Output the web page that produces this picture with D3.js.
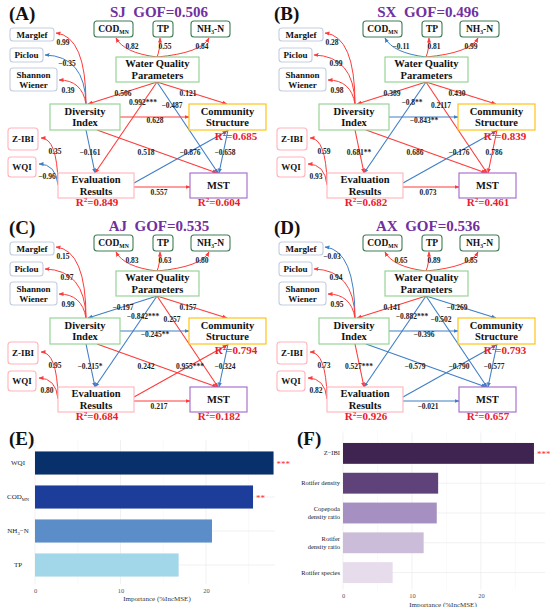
<!DOCTYPE html>
<html>
<head>
<meta charset="utf-8">
<script src="https://cdn.jsdelivr.net/npm/d3@7"></script>
<style>
  body { margin: 0; background: #fff; }
</style>
</head>
<body>
<div id="chart"></div>
<script>
// ---- PLS-PM panels (A)-(D) ----
const sites = ["SJ", "SX", "AJ", "AX"];
const gof = ["0.506", "0.496", "0.535", "0.536"];
const panelTags = ["(A)", "(B)", "(C)", "(D)"];

// R² of Community Structure, Evaluation Results, MST
const r2Community = ["0.685", "0.839", "0.794", "0.793"];
const r2Evaluation = ["0.849", "0.682", "0.684", "0.926"];
const r2MST = ["0.604", "0.461", "0.182", "0.657"];

// inner path coefficients (order = pathEdges)
const pathEdges = ["wqp-div", "wqp-cs", "wqp-eval", "wqp-mst", "div-cs", "div-eval", "div-mst", "eval-cs", "eval-mst", "cs-mst"];
const pathSJ = ["0.506", "0.121", "0.992***", "-0.487", "0.628", "-0.161", "0.518", "-0.876", "0.557", "-0.658"];
const pathSX = ["0.389", "0.430", "-0.8**", "0.2117", "-0.843**", "0.681**", "0.686", "-0.176", "0.073", "0.786"];
const pathAJ = ["-0.197", "0.157", "-0.842***", "0.257", "-0.245**", "-0.215*", "0.242", "0.955***", "0.217", "-0.324"];
const pathAX = ["0.141", "-0.269", "-0.882***", "-0.502", "-0.396", "0.527***", "-0.579", "-0.790", "-0.021", "-0.577"];

// outer loadings (order = loadEdges)
const loadEdges = ["wqp-cod", "wqp-tp", "wqp-nh3", "div-marglef", "div-piclou", "div-shannon", "eval-zibi", "eval-wqi"];
const loadSJ = ["0.82", "0.55", "0.84", "0.99", "-0.35", "0.39", "0.35", "-0.96"];
const loadSX = ["-0.11", "0.81", "0.99", "0.28", "0.99", "0.98", "0.59", "0.93"];
const loadAJ = ["0.83", "0.63", "0.80", "0.15", "0.97", "0.99", "0.95", "0.80"];
const loadAX = ["0.65", "0.89", "0.85", "-0.03", "0.94", "0.95", "0.73", "0.82"];

// ---- random forest importance (E) and (F) ----
const wqCategories = ["WQI", "COD", "NH3", "TP"];
const wqImportance = [27.9, 25.5, 20.7, 16.8];
const wqSig = ["***", "**", "", ""];
const bioCategories = ["Z−IBI", "Rotifer density", "Copepoda density ratio", "Rotifer density ratio", "Rotifer species"];
const bioImportance = [27.7, 13.8, 13.6, 11.7, 7.2];
const bioSig = ["***", "", "", "", ""];
const importanceTicks = [0, 10, 20];

const paths = [pathSJ, pathSX, pathAJ, pathAX];
const loads = [loadSJ, loadSX, loadAJ, loadAX];

const width = 550, height = 607;
const svg = d3.select("#chart").append("svg")
    .attr("width", width)
    .attr("height", height)
    .style("background", "#fff")
    .style("font-family", '"Liberation Serif", "Times New Roman", serif');

const red = "#ff3a3a", blue = "#3f7ec6";
const signColor = d3.scaleThreshold().domain([0]).range([blue, red]);
const minus = s => s.replace("-", "−");

const defs = svg.append("defs");
[["red", red], ["blue", blue]].forEach(([n, c]) => {
  defs.append("marker")
      .attr("id", "ah-" + n)
      .attr("viewBox", "0 0 10 10")
      .attr("refX", 9).attr("refY", 5)
      .attr("markerWidth", 5).attr("markerHeight", 5)
      .attr("markerUnits", "userSpaceOnUse")
      .attr("orient", "auto")
    .append("path")
      .attr("d", "M0,1L10,5L0,9z")
      .attr("fill", c);
});
const marker = c => c === red ? "url(#ah-red)" : "url(#ah-blue)";

// layout of one diagram (local coords)
const boxes = [
  { id: "cod", x: 94, y: 21, w: 39, h: 16, stroke: "#3f7d57", rx: 3, size: 9.5, lines: [[["COD", ""], ["MN", "sub"]]] },
  { id: "tp", x: 153, y: 21, w: 20, h: 16, stroke: "#3f7d57", rx: 3, size: 9.5, lines: [[["TP", ""]]] },
  { id: "nh3", x: 191, y: 21, w: 39, h: 16, stroke: "#3f7d57", rx: 3, size: 9.5, lines: [[["NH", ""], ["3", "sub"], ["-N", ""]]] },
  { id: "wqp", x: 116, y: 57, w: 83, h: 25, stroke: "#8fd08f", rx: 0, size: 10.5, lines: [[["Water Quality", ""]], [["Parameters", ""]]] },
  { id: "marglef", x: 10, y: 28, w: 44, h: 13, stroke: "#c3cde0", rx: 3, size: 9, lines: [[["Marglef", ""]]] },
  { id: "piclou", x: 10, y: 48, w: 33, h: 14, stroke: "#c3cde0", rx: 3, size: 9, lines: [[["Piclou", ""]]] },
  { id: "shannon", x: 10, y: 68, w: 47, h: 23, stroke: "#c3cde0", rx: 3, size: 9, lines: [[["Shannon", ""]], [["Wiener", ""]]] },
  { id: "div", x: 50, y: 104, w: 70, h: 26, stroke: "#8fd08f", rx: 0, size: 10.5, lines: [[["Diversity", ""]], [["Index", ""]]] },
  { id: "cs", x: 189, y: 104, w: 77, h: 26, stroke: "#ffc000", rx: 0, size: 10.5, lines: [[["Community", ""]], [["Structure", ""]]] },
  { id: "zibi", x: 8, y: 128, w: 30, h: 22, stroke: "#ffb3bb", rx: 3, size: 9, lines: [[["Z-IBI", ""]]] },
  { id: "wqi", x: 8, y: 157, w: 28, h: 20, stroke: "#ffb3bb", rx: 3, size: 9, lines: [[["WQI", ""]]] },
  { id: "eval", x: 58, y: 173, w: 76, h: 25, stroke: "#ffb3bb", rx: 0, size: 10.5, lines: [[["Evaluation", ""]], [["Results", ""]]] },
  { id: "mst", x: 190, y: 173, w: 57, h: 25, stroke: "#a066c8", rx: 0, size: 10.5, lines: [[["MST", ""]]] }
];

const pathGeom = {
  "wqp-div":  { from: [157, 82], to: [88, 104], lab: [123, 93] },
  "wqp-cs":   { from: [157, 82], to: [227, 104], lab: [188, 93] },
  "wqp-eval": { from: [157, 82], to: [95, 173], lab: [143, 102] },
  "wqp-mst":  { from: [157, 82], to: [218, 173], lab: [172, 105] },
  "div-cs":   { from: [120, 117], to: [189, 117], lab: [155, 120] },
  "div-eval": { from: [86, 130], to: [95, 173], lab: [90, 152] },
  "div-mst":  { from: [97, 130], to: [217, 173], lab: [146, 152] },
  "eval-cs":  { from: [134, 183], to: [227, 131], lab: [190, 152] },
  "eval-mst": { from: [134, 187], to: [190, 187], lab: [159, 192] },
  "cs-mst":   { from: [228, 130], to: [219, 173], lab: [225, 152] }
};
const loadGeom = {
  "wqp-cod":     { from: [157, 57], c: [124, 53], to: [116, 38], lab: [132, 46] },
  "wqp-tp":      { from: [157, 57], c: [160, 50], to: [160, 38], lab: [165, 46] },
  "wqp-nh3":     { from: [157, 57], c: [201, 53], to: [209, 38], lab: [202, 46] },
  "div-marglef": { from: [86, 104], c: [86, 36], to: [56, 33], lab: [63, 42] },
  "div-piclou":  { from: [86, 104], c: [85, 56], to: [45, 55], lab: [67, 63] },
  "div-shannon": { from: [86, 104], c: [82, 80], to: [59, 80], lab: [68, 90] },
  "eval-zibi":   { from: [58, 183], c: [57, 138], to: [41, 138], lab: [55, 151] },
  "eval-wqi":    { from: [58, 185], c: [56, 164], to: [39, 164], lab: [47, 176] }
};

const offsets = [[0, 0], [269, 0], [0, 214], [269, 214]];

function boxText(g, b) {
  const t = g.append("text")
      .attr("text-anchor", "middle")
      .attr("font-weight", "bold")
      .attr("font-size", b.size)
      .attr("fill", "#111");
  const n = b.lines.length, lh = b.size * 1.12;
  b.lines.forEach((line, i) => {
    const y = b.y + b.h / 2 + (i - (n - 1) / 2) * lh + b.size * 0.34;
    const row = t.append("tspan").attr("x", b.x + b.w / 2).attr("y", y);
    line.forEach(([s, kind], j) => {
      const sp = row.append("tspan").text(s);
      if (kind === "sub") sp.attr("font-size", b.size * 0.6).attr("dy", b.size * 0.22);
      else if (j > 0) sp.attr("dy", -b.size * 0.22);
    });
  });
}

sites.forEach((site, p) => {
  const [ox, oy] = offsets[p];
  const x = d3.scaleLinear().domain([0, 275]).range([ox, ox + 275]);
  const y = d3.scaleLinear().domain([0, 214]).range([oy, oy + 214]);
  const g = svg.append("g");

  // outer loadings (curved)
  loadEdges.forEach((e, i) => {
    const gm = loadGeom[e], v = loads[p][i], c = signColor(parseFloat(v));
    const path = d3.path();
    path.moveTo(x(gm.from[0]), y(gm.from[1]));
    path.quadraticCurveTo(x(gm.c[0]), y(gm.c[1]), x(gm.to[0]), y(gm.to[1]));
    g.append("path").attr("d", path.toString())
        .attr("fill", "none").attr("stroke", c).attr("stroke-width", 1)
        .attr("marker-end", marker(c));
  });

  // inner paths
  pathEdges.forEach((e, i) => {
    const gm = pathGeom[e], v = paths[p][i], c = signColor(parseFloat(v));
    g.append("line")
        .attr("x1", x(gm.from[0])).attr("y1", y(gm.from[1]))
        .attr("x2", x(gm.to[0])).attr("y2", y(gm.to[1]))
        .attr("stroke", c).attr("stroke-width", 1.1)
        .attr("marker-end", marker(c));
  });

  // boxes
  boxes.forEach(b0 => {
    const b = { ...b0, x: x(b0.x), y: y(b0.y) };
    g.append("rect")
        .attr("x", b.x).attr("y", b.y).attr("width", b.w).attr("height", b.h)
        .attr("rx", b.rx).attr("fill", "#fff")
        .attr("stroke", b.stroke).attr("stroke-width", 1.1);
    boxText(g, b);
  });

  // coefficient labels
  const labStyle = sel => sel.attr("text-anchor", "middle").attr("font-size", 7.5)
      .attr("font-weight", "bold").attr("fill", "#222").attr("dy", "0.35em");
  pathEdges.forEach((e, i) => {
    g.append("text").attr("x", x(pathGeom[e].lab[0])).attr("y", y(pathGeom[e].lab[1]))
        .text(minus(paths[p][i])).call(labStyle);
  });
  loadEdges.forEach((e, i) => {
    g.append("text").attr("x", x(loadGeom[e].lab[0])).attr("y", y(loadGeom[e].lab[1]))
        .text(minus(loads[p][i])).call(labStyle);
  });

  // R² labels
  const r2 = (cx, cy, val) => {
    const t = g.append("text").attr("x", x(cx)).attr("y", y(cy))
        .attr("text-anchor", "middle").attr("font-size", 11)
        .attr("font-weight", "bold").attr("fill", "#e8202a");
    t.append("tspan").text("R");
    t.append("tspan").text("2").attr("font-size", 7).attr("dy", -4);
    t.append("tspan").text("=" + val).attr("dy", 4);
  };
  r2(236, 140, r2Community[p]);
  r2(97, 206, r2Evaluation[p]);
  r2(219, 206, r2MST[p]);

  // title + tag
  g.append("text").attr("x", x(159)).attr("y", y(17))
      .attr("text-anchor", "middle").attr("font-size", 15)
      .attr("font-weight", "bold").attr("fill", "#7030a0")
      .attr("xml:space", "preserve")
      .text(site + "  GOF=" + gof[p]);
  g.append("text").attr("x", x(p % 2 ? 5 : 9)).attr("y", y(20))
      .attr("font-size", 19).attr("font-weight", "bold").attr("fill", "#111")
      .text(panelTags[p]);
});

// ---- bar panels ----
function barPanel(opts) {
  const g = svg.append("g");
  const x = d3.scaleLinear().domain(opts.domain).range(opts.xr);
  const y = d3.scaleBand().domain(opts.cats).range(opts.yr).paddingInner(opts.pad).paddingOuter(opts.pad / 2);

  // grid
  const minor = d3.range(5, opts.domain[1], 10);
  g.selectAll(".gminor").data(minor).join("line")
      .attr("x1", d => x(d)).attr("x2", d => x(d))
      .attr("y1", opts.yr[0] - 6).attr("y2", opts.yr[1] + 2)
      .attr("stroke", "#f2f2f2").attr("stroke-width", 0.5);
  g.selectAll(".gmajor").data(importanceTicks).join("line")
      .attr("x1", d => x(d)).attr("x2", d => x(d))
      .attr("y1", opts.yr[0] - 6).attr("y2", opts.yr[1] + 2)
      .attr("stroke", "#ebebeb").attr("stroke-width", 0.7);
  g.selectAll(".gh").data(opts.cats).join("line")
      .attr("x1", opts.xr[0]).attr("x2", opts.xr[1])
      .attr("y1", d => y(d) + y.bandwidth() / 2).attr("y2", d => y(d) + y.bandwidth() / 2)
      .attr("stroke", "#ebebeb").attr("stroke-width", 0.7);

  // bars
  g.selectAll(".bar").data(opts.cats).join("rect")
      .attr("x", x(0))
      .attr("y", d => y(d))
      .attr("width", (d, i) => x(opts.vals[i]) - x(0))
      .attr("height", y.bandwidth())
      .attr("fill", (d, i) => opts.colors[i]);

  // significance stars
  g.selectAll(".sig").data(opts.cats).join("text")
      .attr("x", (d, i) => x(opts.vals[i]) + 3)
      .attr("y", d => y(d) + y.bandwidth() / 2 + 4)
      .attr("font-size", 9).attr("fill", "#ff2a2a")
      .text((d, i) => opts.sig[i]);

  // x axis
  const ax = g.append("g")
      .attr("transform", `translate(0,${opts.yr[1] + 3})`)
      .call(d3.axisBottom(x).tickValues(importanceTicks).tickSize(0).tickPadding(3))
      .attr("font-family", null);
  ax.select(".domain").remove();
  ax.selectAll("text").attr("font-size", 6.5).attr("fill", "#555");
  g.append("text").attr("x", (opts.xr[0] + opts.xr[1]) / 2 + opts.titleDx).attr("y", opts.yr[1] + 19)
      .attr("text-anchor", "middle").attr("font-size", 7).attr("fill", "#333")
      .text("Importance (%IncMSE)");

  // y axis
  const ay = g.append("g")
      .attr("transform", `translate(${opts.xr[0]},0)`)
      .call(d3.axisLeft(y).tickSize(0).tickPadding(3))
      .attr("font-family", null);
  ay.select(".domain").remove();
  ay.selectAll("text").attr("font-size", 7).attr("fill", "#222");
  opts.label(ay);

  svg.append("text").attr("x", opts.tag[0]).attr("y", opts.tag[1])
      .attr("font-size", 19).attr("font-weight", "bold").attr("fill", "#111")
      .text(opts.tagText);
}

barPanel({
  cats: wqCategories, vals: wqImportance, sig: wqSig,
  domain: [0, 28.07], xr: [35, 275], yr: [446, 582], pad: 0.32, titleDx: 2,
  colors: ["#08306b", "#1d3d9a", "#5b8ec8", "#a1d7e8"],
  tag: [9, 445], tagText: "(E)",
  label: ay => {
    ay.selectAll("text").attr("x", -17).attr("text-anchor", "middle").each(function(d) {
      const t = d3.select(this);
      if (d === "COD") {
        t.text("COD");
        t.append("tspan").text("MN").attr("font-size", 4.5).attr("dy", 1.5);
      } else if (d === "NH3") {
        t.text("NH");
        t.append("tspan").text("3").attr("font-size", 4.5).attr("dy", 1.5);
        t.append("tspan").text("−N").attr("dy", -1.5);
      }
    });
  }
});

barPanel({
  cats: bioCategories, vals: bioImportance, sig: bioSig,
  domain: [0, 29.3], xr: [343, 545], yr: [438.5, 587.5], pad: 0.3, titleDx: -1,
  colors: ["#3f2452", "#5e4279", "#a690c2", "#cbbdd9", "#e6dcec"],
  tag: [297, 445], tagText: "(F)",
  label: ay => {
    ay.selectAll("text").attr("font-size", 6.5).each(function(d) {
      if (!d.endsWith("ratio")) return;
      const t = d3.select(this), parts = [d.replace(" density ratio", ""), "density ratio"];
      t.text(null);
      t.append("tspan").attr("x", -3).attr("dy", "-0.25em").text(parts[0]);
      t.append("tspan").attr("x", -3).attr("dy", "1.15em").text(parts[1]);
    });
  }
});
</script>
</body>
</html>
